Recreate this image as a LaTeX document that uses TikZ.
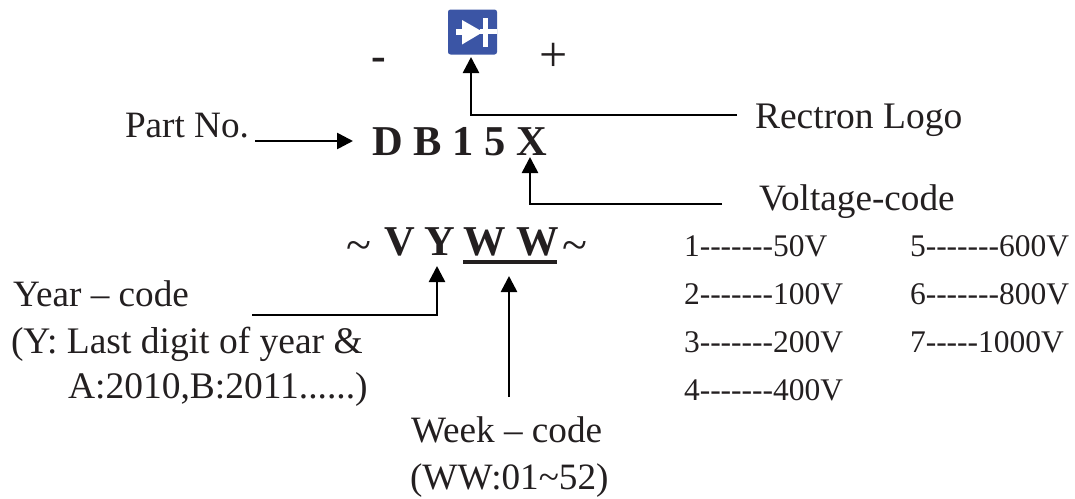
\documentclass[tikz,border=0pt]{standalone}
\usepackage{fontspec}
\setmainfont{Liberation Serif}
\usetikzlibrary{arrows.meta}
\definecolor{ink}{HTML}{231F20}
\definecolor{logoblue}{HTML}{3B55A5}
\newcommand{\sevendash}{-{}-{}-{}-{}-{}-{}-}
\newcommand{\fivedash}{-{}-{}-{}-{}-}
\tikzset{
  lbl/.style={anchor=base west,inner sep=0pt,outer sep=0pt,text=ink,font=\fontsize{37.2}{37.2}\selectfont},
  lblwide/.style={lbl,font=\fontsize{37.5}{37.5}\selectfont},
  codeitem/.style={lbl,font=\fontsize{31.5}{31.5}\selectfont},
  boldcode/.style={lbl,font=\fontsize{42.5}{42.5}\selectfont\bfseries},
  tildemark/.style={lbl,font=\fontsize{46}{46}\selectfont},
  conn/.style={line width=2.6pt,black,-{Triangle[length=16pt,width=16pt]}},
  logomark/.style={fill=white,draw=none}
}
\begin{document}
\begin{tikzpicture}[x=1pt,y=-1pt]
\useasboundingbox (0,0) rectangle (1075,498);
% logo
\node[draw=none,fill=logoblue,rounded corners=2.5pt,minimum width=49pt,minimum height=45pt,inner sep=0pt] (logo) at (472.5,32) {};
\fill[logomark] (462,20) -- (462,44.5) -- (483,32) -- cycle;
\fill[logomark] (483,18) rectangle (488,47);
\fill[logomark] (456,28.5) rectangle (464,34.5);
\fill[logomark] (480,29) rectangle (497,34);
% polarity
\node[lbl,font=\fontsize{44}{44}\selectfont\bfseries] (minus) at (371,70) {-};
\node[lbl,font=\fontsize{50}{50}\selectfont] (plus) at (539,71) {+};
% part number
\node[lbl] (part) at (125,137) {Part No.};
\node[boldcode] (dbx) at (372,155) {D B 1 5 X};
\node[lblwide] (rectron) at (755,128) {Rectron Logo};
\node[lbl] (voltage) at (759,210) {Voltage-code};
% date code
\node[tildemark] (tl) at (346,260) {\char`~};
\node[boldcode] (v) at (384,255) {V};
\node[boldcode] (y) at (424,255) {Y};
\node[boldcode] (w1) at (463,255) {W};
\node[boldcode] (w2) at (516,255) {W};
\node[tildemark] (tr) at (562,260) {\char`~};
\draw[line width=4pt,ink] (463,262) -- (557,262);
% year / week text
\node[lbl] (year) at (13,306) {Year – code};
\node[lblwide] (yearb) at (11,353) {(Y: Last digit of year \&};
\node[lblwide] (yearc) at (68,398) {A:2010,B:2011......)};
\node[lbl] (week) at (411,442) {Week – code};
\node[lbl] (weekb) at (410,489) {(WW:01\char`~52)};
% voltage table
\node[codeitem] (c1) at (684,256) {1\sevendash 50V};
\node[codeitem] (c2) at (684,304) {2\sevendash 100V};
\node[codeitem] (c3) at (684,352) {3\sevendash 200V};
\node[codeitem] (c4) at (684,400) {4\sevendash 400V};
\node[codeitem] (c5) at (910,256) {5\sevendash 600V};
\node[codeitem] (c6) at (910,304) {6\sevendash 800V};
\node[codeitem] (c7) at (910,352) {7\fivedash 1000V};
% connector ends
\coordinate (partEnd) at (255,141);
\coordinate (partTip) at (353,141);
\coordinate (logoEnd) at (737,115);
\coordinate (logoTip) at (471,57);
\coordinate (voltEnd) at (722,204);
\coordinate (voltTip) at (530,157);
\coordinate (yearEnd) at (252,315);
\coordinate (yearTip) at (437,266);
\coordinate (weekEnd) at (509,397);
\coordinate (weekTip) at (509,276);
\draw[conn] (partEnd) -- (partTip);
\draw[conn] (logoEnd) -| (logoTip);
\draw[conn] (voltEnd) -| (voltTip);
\draw[conn] (yearEnd) -| (yearTip);
\draw[conn] (weekEnd) -- (weekTip);
\end{tikzpicture}
\end{document}
